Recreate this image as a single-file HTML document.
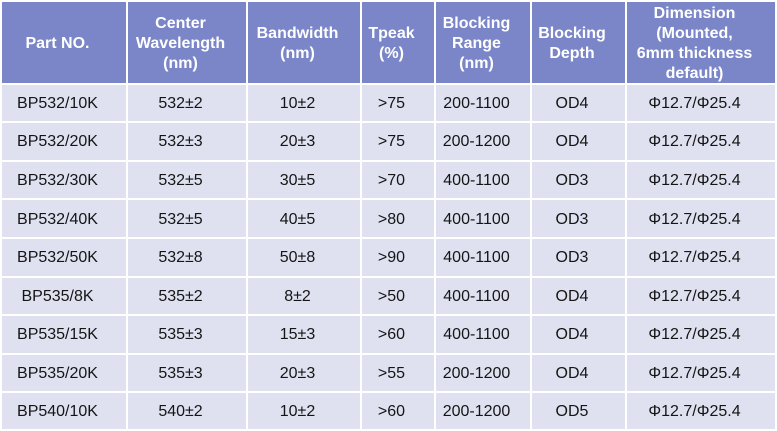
<!DOCTYPE html>
<html>
<head>
<meta charset="utf-8">
<style>
  html,body{margin:0;padding:0;background:#fff;}
  body{width:777px;height:431px;position:relative;overflow:hidden;font-family:"Liberation Sans",Arial,sans-serif;}
  .c{position:absolute;display:flex;align-items:center;justify-content:center;box-sizing:border-box;padding-right:13px;text-align:center;}
  .h{background:#7a86c8;color:#fff;font-weight:bold;font-size:16px;line-height:19.8px;top:2px;height:81px;padding-top:3px;}
  .d{background:#dfe1f0;color:#151515;font-size:16px;line-height:18px;padding-top:2px;}
</style>
</head>
<body>
<div id="t"></div>
<script>
(function(){
  var cols=[[2,126],[128,246],[248,360],[362,434],[436,530],[532,625],[627,775]];
  var head=["Part NO.","Center<br>Wavelength<br>(nm)","Bandwidth<br>(nm)","Tpeak<br>(%)","Blocking<br>Range<br>(nm)","Blocking<br>Depth","Dimension<br>(Mounted,<br>6mm thickness<br>default)"];
  var rows=[
    ["BP532/10K","532±2","10±2","&gt;75","200-1100","OD4","Φ12.7/Φ25.4"],
    ["BP532/20K","532±3","20±3","&gt;75","200-1200","OD4","Φ12.7/Φ25.4"],
    ["BP532/30K","532±5","30±5","&gt;70","400-1100","OD3","Φ12.7/Φ25.4"],
    ["BP532/40K","532±5","40±5","&gt;80","400-1100","OD3","Φ12.7/Φ25.4"],
    ["BP532/50K","532±8","50±8","&gt;90","400-1100","OD3","Φ12.7/Φ25.4"],
    ["BP535/8K","535±2","8±2","&gt;50","400-1100","OD4","Φ12.7/Φ25.4"],
    ["BP535/15K","535±3","15±3","&gt;60","400-1100","OD4","Φ12.7/Φ25.4"],
    ["BP535/20K","535±3","20±3","&gt;55","200-1200","OD4","Φ12.7/Φ25.4"],
    ["BP540/10K","540±2","10±2","&gt;60","200-1200","OD5","Φ12.7/Φ25.4"]
  ];
  var h="";
  for(var j=0;j<7;j++){
    h+='<div class="c h" style="left:'+cols[j][0]+'px;width:'+(cols[j][1]-cols[j][0])+'px">'+head[j]+'</div>';
  }
  for(var i=0;i<rows.length;i++){
    var top=84.5+38.6*i;
    var ht=(i==8)?36:36.8;
    for(var j=0;j<7;j++){
      h+='<div class="c d" style="top:'+top+'px;height:'+ht+'px;left:'+cols[j][0]+'px;width:'+(cols[j][1]-cols[j][0])+'px">'+rows[i][j]+'</div>';
    }
  }
  document.getElementById("t").innerHTML=h;
})();
</script>
</body>
</html>
